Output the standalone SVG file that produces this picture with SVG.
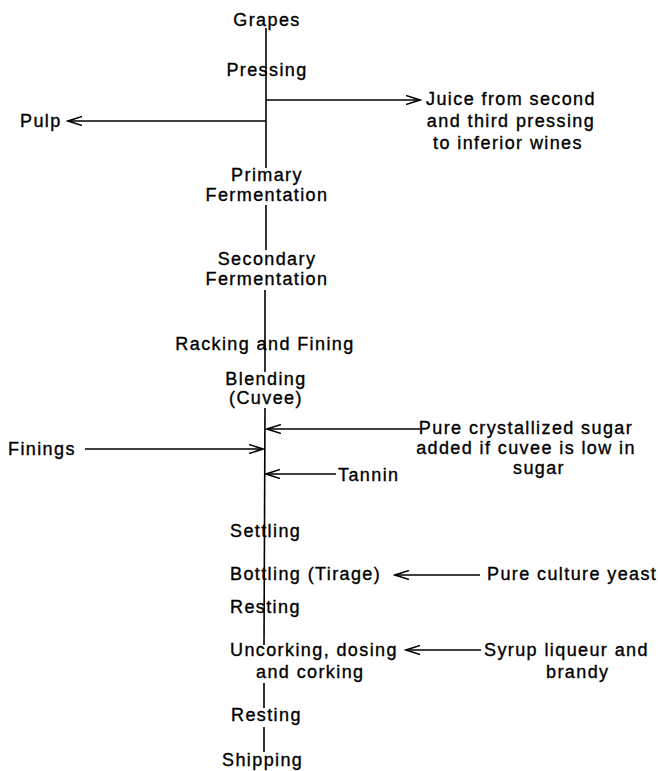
<svg xmlns="http://www.w3.org/2000/svg" width="658" height="771" viewBox="0 0 658 771">
<defs>
<marker id="ah" markerUnits="userSpaceOnUse" markerWidth="16" markerHeight="10" refX="14" refY="5" orient="auto">
<path d="M0,0.5 L14,5 L0,9.5" fill="none" stroke="#000" stroke-width="1.5"/>
</marker>
<style>
text{font-family:"Liberation Sans",Arial,sans-serif;font-size:18px;letter-spacing:1.4px;fill:#000;stroke:#000;stroke-width:0.35}
.c{text-anchor:middle}
.ln{stroke:#000;stroke-width:1.6;fill:none}
.ar{stroke:#000;stroke-width:1.5;fill:none;marker-end:url(#ah)}
</style>
</defs>
<rect width="658" height="771" fill="#fff"/>
<g id="connectors">
<line class="ln" x1="266" y1="28" x2="266" y2="168"/>
<line class="ln" x1="266" y1="205" x2="266" y2="250"/>
<line class="ln" x1="265" y1="290" x2="265" y2="372"/>
<line class="ln" x1="265" y1="408" x2="264" y2="645"/>
<line class="ln" x1="264" y1="683" x2="264" y2="708"/>
<line class="ln" x1="264" y1="727" x2="264" y2="752"/>
<line class="ar" x1="266" y1="100" x2="420" y2="100"/>
<line class="ar" x1="266" y1="121" x2="68" y2="121"/>
<line class="ar" x1="420" y1="429" x2="267" y2="429"/>
<line class="ar" x1="85" y1="449" x2="263" y2="449"/>
<line class="ar" x1="336" y1="474" x2="266" y2="474"/>
<line class="ar" x1="480" y1="575" x2="395" y2="575"/>
<line class="ar" x1="481" y1="650" x2="406" y2="650"/>
</g>
<g id="grapes"><text class="c" x="267" y="26">Grapes</text></g>
<g id="pressing"><text class="c" x="267" y="76">Pressing</text></g>
<g id="juice"><text class="c" x="511" y="105">Juice from second</text><text class="c" x="511" y="127">and third pressing</text><text class="c" x="508" y="149">to inferior wines</text></g>
<g id="pulp"><text x="20" y="127">Pulp</text></g>
<g id="primary"><text class="c" x="267" y="181">Primary</text><text class="c" x="267" y="201">Fermentation</text></g>
<g id="secondary"><text class="c" x="267" y="265">Secondary</text><text class="c" x="267" y="285">Fermentation</text></g>
<g id="racking"><text class="c" x="265" y="350">Racking and Fining</text></g>
<g id="blending"><text class="c" x="266" y="385">Blending</text><text class="c" x="266" y="404">(Cuvee)</text></g>
<g id="sugar"><text class="c" x="526" y="434">Pure crystallized sugar</text><text class="c" x="526" y="454">added if cuvee is low in</text><text class="c" x="539" y="474">sugar</text></g>
<g id="finings"><text x="8" y="455">Finings</text></g>
<g id="tannin"><text x="338" y="481">Tannin</text></g>
<g id="settling"><text x="230" y="537">Settling</text></g>
<g id="bottling"><text x="230" y="580">Bottling (Tirage)</text></g>
<g id="yeast"><text x="487" y="580">Pure culture yeast</text></g>
<g id="resting1"><text x="230" y="613">Resting</text></g>
<g id="uncorking"><text x="230" y="656">Uncorking, dosing</text><text x="256" y="678">and corking</text></g>
<g id="syrup"><text x="484" y="656">Syrup liqueur and</text><text x="546" y="678">brandy</text></g>
<g id="resting2"><text x="231" y="721">Resting</text></g>
<g id="shipping"><text x="222" y="766">Shipping</text></g>
</svg>
